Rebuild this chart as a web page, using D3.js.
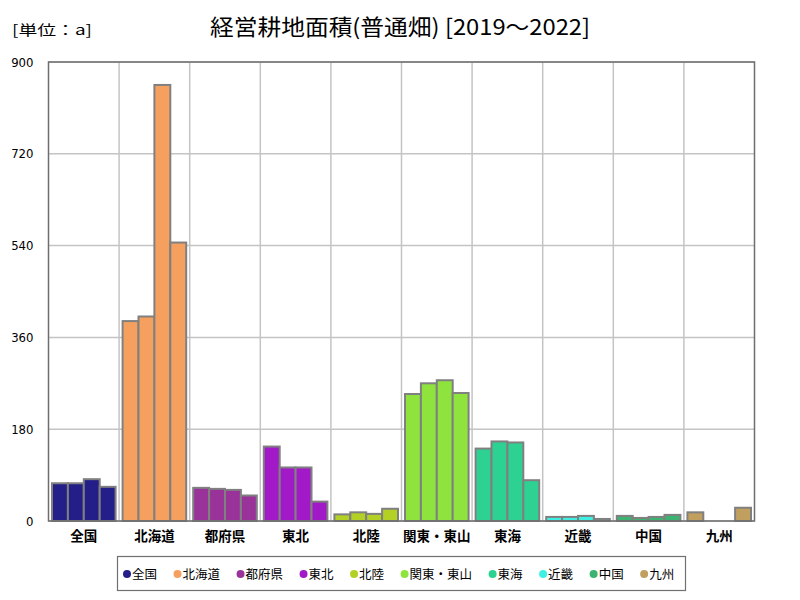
<!DOCTYPE html>
<html><head><meta charset="utf-8">
<script src="https://cdn.jsdelivr.net/npm/d3@7"></script>
<style>
body{margin:0;background:#fff;}
text{font-family:"Noto Sans CJK JP","Noto Sans",sans-serif;}
</style></head>
<body><svg id="c" width="800" height="600"></svg>
<script>
const categories = ["全国","北海道","都府県","東北","北陸","関東・東山","東海","近畿","中国","九州"];
const years = ["2019","2020","2021","2022"];
const v2019 = [74, 392, 65, 146, 13, 249, 142, 8, 10, 17];
const v2020 = [74, 401, 63, 105, 17, 270, 156, 8, 6, null];
const v2021 = [82, 855, 61, 105, 14, 276, 154, 10, 8, null];
const v2022 = [67, 546, 50, 38, 24, 251, 80, 4, 12, 26];
const colors = ["#231e88","#f5a05f","#993399","#a21ac8","#b3d125","#8ee43c","#2dd191","#3ef0e2","#3cb371","#c19f5e"];
const yTicks = [0,180,360,540,720,900];
const title = "経営耕地面積(普通畑) [2019～2022]";
const unitLabel = "[単位：a]";

const series = [v2019, v2020, v2021, v2022];
const svg = d3.select("#c");
const L = 48.5, R = 754.5, T = 62, B = 521;

const x = d3.scaleBand().domain(categories).range([L, R]).padding(0);
const xi = d3.scaleBand().domain(years).range([3.5, x.bandwidth() - 3.5]).padding(0);
const y = d3.scaleLinear().domain([0, 900]).range([B, T]);

// grid
svg.append("g").selectAll("line.h").data(yTicks).join("line")
  .attr("x1", L).attr("x2", R).attr("y1", d => y(d)).attr("y2", d => y(d))
  .attr("stroke", "#c4c4c4").attr("stroke-width", 1.5);
svg.append("g").selectAll("line.v").data(categories.slice(1)).join("line")
  .attr("x1", d => x(d)).attr("x2", d => x(d)).attr("y1", T).attr("y2", B)
  .attr("stroke", "#c4c4c4").attr("stroke-width", 1.5);

// bars
const bars = [];
categories.forEach((c, i) => years.forEach((yr, j) => {
  const v = series[j][i];
  if (v != null) bars.push({c, yr, v, color: colors[i]});
}));
svg.append("g").selectAll("rect").data(bars).join("rect")
  .attr("x", d => x(d.c) + xi(d.yr))
  .attr("width", xi.bandwidth())
  .attr("y", d => y(d.v))
  .attr("height", d => B - y(d.v))
  .attr("fill", d => d.color)
  .attr("stroke", "#808080").attr("stroke-width", 2);

// frame
svg.append("rect").attr("x", L).attr("y", T).attr("width", R - L).attr("height", B - T)
  .attr("fill", "none").attr("stroke", "#6e6e6e").attr("stroke-width", 1.5);

// y axis labels
const yAxis = d3.axisLeft(y).tickValues(yTicks).tickSize(0).tickPadding(15);
const gy = svg.append("g").attr("transform", `translate(${L},0)`).call(yAxis);
gy.select(".domain").remove();
gy.selectAll("text").attr("font-size", 13).attr("fill", "#000")
  .style("font-family", "'Liberation Sans Narrow','DejaVu Sans Condensed','Noto Sans',sans-serif");

// x axis labels
const xAxis = d3.axisBottom(x).tickSize(0).tickPadding(10);
const gx = svg.append("g").attr("transform", `translate(0,${B})`).call(xAxis);
gx.select(".domain").remove();
gx.selectAll("text").attr("font-size", 13.5).attr("font-weight", "bold").attr("fill", "#000")
  .style("font-family", "'Noto Sans CJK JP',sans-serif");

// title
svg.append("text").attr("x", 400).attr("y", 35).attr("text-anchor", "middle")
  .attr("font-size", 22).attr("fill", "#000")
  .attr("textLength", 380).attr("lengthAdjust", "spacingAndGlyphs").text(title);
svg.append("text").attr("x", 12).attr("y", 35).attr("font-size", 14).attr("fill", "#000")
  .attr("textLength", 80).attr("lengthAdjust", "spacingAndGlyphs").text(unitLabel);

// legend
const lg = svg.append("g");
lg.append("rect").attr("x", 117.5).attr("y", 556.5).attr("width", 568).attr("height", 34)
  .attr("fill", "#fff").attr("stroke", "#707070").attr("stroke-width", 1.2);
let cx = 127;
categories.forEach((c, i) => {
  lg.append("circle").attr("cx", cx).attr("cy", 574).attr("r", 4).attr("fill", colors[i]);
  const t = lg.append("text").attr("x", cx + 5).attr("y", 578.5).attr("font-size", 12.5)
    .attr("fill", "#000").text(c);
  const w = t.node().getComputedTextLength();
  cx += w + 25.5;
});
</script></body></html>
